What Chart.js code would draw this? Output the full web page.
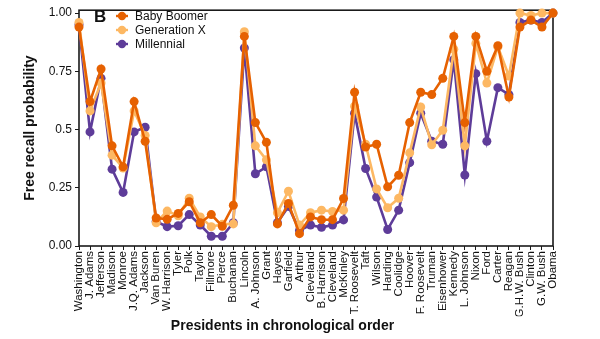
<!DOCTYPE html>
<html>
<head>
<meta charset="utf-8">
<script src="https://cdn.jsdelivr.net/npm/chart.js@4.4.1/dist/chart.umd.min.js"></script>
<style>
  html, body { margin: 0; padding: 0; background: #ffffff; }
  #wrap { width: 600px; height: 339px; }
</style>
</head>
<body>
<div id="wrap"><canvas id="recall" width="600" height="339"></canvas></div>
<script>
// Presidents in chronological order
const presidents = [
  'Washington', 'J. Adams', 'Jefferson', 'Madison', 'Monroe', 'J.Q. Adams', 'Jackson',
  'Van Buren', 'W. Harrison', 'Tyler', 'Polk', 'Taylor', 'Fillmore', 'Pierce', 'Buchanan',
  'Lincoln', 'A. Johnson', 'Grant', 'Hayes', 'Garfield', 'Arthur', 'Cleveland', 'B. Harrison',
  'Cleveland', 'McKinley', 'T. Roosevelt', 'Taft', 'Wilson', 'Harding', 'Coolidge', 'Hoover',
  'F. Roosevelt', 'Truman', 'Eisenhower', 'Kennedy', 'L. Johnson', 'Nixon', 'Ford', 'Carter',
  'Reagan', 'G.H.W. Bush', 'Clinton', 'G.W. Bush', 'Obama'
];

// Free recall probability by generation
const babyBoomer = [
  0.94, 0.62, 0.76, 0.43, 0.34, 0.62, 0.45, 0.12, 0.115, 0.14, 0.19,
  0.10, 0.135, 0.085, 0.175, 0.90, 0.53, 0.445, 0.095, 0.183, 0.053, 0.125,
  0.113, 0.113, 0.204, 0.66, 0.425, 0.437, 0.254, 0.304, 0.53, 0.66, 0.65,
  0.72, 0.90, 0.53, 0.90, 0.75, 0.86, 0.64, 0.94, 0.97, 0.94, 1.00
];
const generationX = [
  0.96, 0.58, 0.70, 0.39, 0.335, 0.58, 0.475, 0.10, 0.15, 0.13, 0.205,
  0.125, 0.083, 0.093, 0.095, 0.92, 0.43, 0.37, 0.143, 0.235, 0.09, 0.143,
  0.154, 0.148, 0.154, 0.60, 0.437, 0.245, 0.164, 0.205, 0.40, 0.597, 0.435,
  0.497, 0.845, 0.43, 0.87, 0.70, 0.855, 0.73, 1.00, 0.99, 1.00, 1.00
];
const millennial = [
  0.95, 0.49, 0.72, 0.33, 0.23, 0.49, 0.51, 0.105, 0.083, 0.087, 0.135,
  0.09, 0.042, 0.042, 0.10, 0.85, 0.31, 0.34, 0.10, 0.17, 0.067, 0.09,
  0.08, 0.09, 0.112, 0.57, 0.333, 0.21, 0.071, 0.154, 0.358, 0.57, 0.45,
  0.437, 0.80, 0.305, 0.74, 0.45, 0.68, 0.65, 0.96, 0.97, 0.96, 1.00
];

const seriesNames = ['Baby Boomer', 'Generation X', 'Millennial'];
const seriesColors = ['#e66101', '#fdb863', '#5e3c99'];

const yTickValues = [0, 0.25, 0.5, 0.75, 1];
const yTickLabels = ['0.00', '0.25', '0.5', '0.75', '1.00'];

const FONT = '"Liberation Sans", Arial, Helvetica, sans-serif';

function toPoints(values) {
  return values.map((v, i) => ({ x: i, y: v }));
}

function makeDataset(name, values, color) {
  return {
    label: name,
    data: toPoints(values),
    borderColor: color,
    backgroundColor: color,
    pointBackgroundColor: color,
    pointBorderColor: color,
    pointBorderWidth: 0,
    pointRadius: 4.5,
    pointHoverRadius: 4.5,
    borderWidth: 2.6,
    tension: 0,
    clip: false
  };
}

// Boxed plot frame behind the lines, panel letter and legend on top
const frameAndLegend = {
  id: 'frameAndLegend',
  beforeDatasetsDraw(chart) {
    const { ctx, chartArea: a } = chart;
    ctx.save();
    ctx.strokeStyle = '#1a1a1a';
    ctx.lineWidth = 1.6;
    ctx.strokeRect(a.left, a.top, a.right - a.left, a.bottom - a.top);
    ctx.restore();
  },
  afterDatasetsDraw(chart) {
    const { ctx } = chart;
    ctx.save();
    ctx.fillStyle = '#111';
    ctx.textBaseline = 'middle';
    ctx.textAlign = 'left';
    ctx.font = 'bold 17px ' + FONT;
    ctx.fillText('B', 94, 17);

    const mx = 122, y0 = 16, dy = 14;
    chart.data.datasets.forEach((ds, i) => {
      const y = y0 + i * dy;
      ctx.strokeStyle = ds.borderColor;
      ctx.lineWidth = 2.4;
      ctx.beginPath();
      ctx.moveTo(mx - 6, y);
      ctx.lineTo(mx + 6, y);
      ctx.stroke();
      ctx.fillStyle = ds.borderColor;
      ctx.beginPath();
      ctx.arc(mx, y, 4.2, 0, Math.PI * 2);
      ctx.fill();
      ctx.fillStyle = '#111';
      ctx.font = '12px ' + FONT;
      ctx.fillText(ds.label, 135, y + 0.5);
    });
    ctx.restore();
  }
};

new Chart(document.getElementById('recall'), {
  type: 'line',
  data: {
    datasets: [
      makeDataset(seriesNames[0], babyBoomer, seriesColors[0]),
      makeDataset(seriesNames[1], generationX, seriesColors[1]),
      makeDataset(seriesNames[2], millennial, seriesColors[2])
    ]
  },
  options: {
    responsive: false,
    devicePixelRatio: 1,
    animation: false,
    layout: { padding: { top: 3, left: 12, right: 47, bottom: 0 } },
    plugins: {
      legend: { display: false },
      tooltip: { enabled: false },
      title: {
        display: true,
        position: 'bottom',
        text: 'Presidents in chronological order',
        color: '#111',
        font: { family: FONT, size: 14, weight: 'bold', lineHeight: 1.2 },
        padding: { top: 2, bottom: 4 }
      }
    },
    scales: {
      x: {
        type: 'linear',
        min: 0,
        max: presidents.length - 1,
        offset: false,
        border: { display: false },
        grid: { drawOnChartArea: false, drawTicks: true, tickLength: 4, color: '#1a1a1a', lineWidth: 1 },
        afterBuildTicks(scale) {
          scale.ticks = presidents.map((_, i) => ({ value: i }));
        },
        afterFit(scale) { scale.height = 70.2; },
        ticks: {
          autoSkip: false,
          minRotation: 90,
          maxRotation: 90,
          padding: 1,
          color: '#111',
          font: { family: FONT, size: 11.5 },
          callback: (v) => presidents[v]
        }
      },
      y: {
        type: 'linear',
        min: 0,
        max: 1.0125,
        border: { display: false },
        grid: { drawOnChartArea: false, drawTicks: true, tickLength: 4, color: '#1a1a1a', lineWidth: 1 },
        afterBuildTicks(scale) {
          scale.ticks = yTickValues.map(v => ({ value: v }));
        },
        afterFit(scale) { scale.width = 67; },
        ticks: {
          padding: 3,
          color: '#111',
          font: { family: FONT, size: 12 },
          callback: (v, i) => yTickLabels[i]
        },
        title: {
          display: true,
          text: 'Free recall probability',
          color: '#111',
          font: { family: FONT, size: 14, weight: 'bold', lineHeight: 1.2 },
          padding: { top: 10, bottom: 0 }
        }
      }
    }
  },
  plugins: [frameAndLegend]
});
</script>
</body>
</html>
